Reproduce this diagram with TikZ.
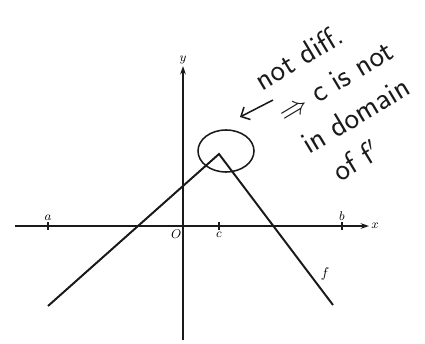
\documentclass[tikz,border=0pt]{standalone}
\usetikzlibrary{arrows.meta}
\begin{document}
\begin{tikzpicture}[x=0.025cm, y=0.025cm]
    \def\lineW{1.4pt}

    \definecolor{inkColour}{HTML}{1A1A1A}

    \tikzset{
        axisLine/.style={draw=inkColour, line width=\lineW, -{Stealth[length=6pt,width=4pt]}},
        graphLine/.style={draw=inkColour, line width=\lineW},
        axisLabel/.style={inner sep=1pt, font=\small},
        noteText/.style={rotate=31, align=center, font=\fontsize{22}{28}\selectfont\sffamily, text=inkColour, inner sep=0pt}
    }

    % Fix the margins of the picture
    \useasboundingbox (-183,-117) rectangle (242,226);

    % Draw axes
    \coordinate (xStart) at (-168,0);
    \coordinate (xEnd) at (186,0);
    \coordinate (yStart) at (0,-114);
    \coordinate (yEnd) at (0,160);
    \draw[axisLine] (xStart) -- (xEnd) node[axisLabel, right] (xLab) {$x$};
    \draw[axisLine] (yStart) -- (yEnd) node[axisLabel, above] (yLab) {$y$};
    \node[axisLabel, below left] (origin) at (0,-2) {$O$};

    % Ticks a, c and b on the x-axis
    \foreach \pos in {-135,36,159}
        \draw[graphLine, line width=0.8pt] (\pos,4) -- (\pos,-4);
    \node[axisLabel, above] (labA) at (-135,4) {$a$};
    \node[axisLabel, below] (labC) at (36,-4) {$c$};
    \node[axisLabel, above] (labB) at (159,4) {$b$};

    % Graph of f with a corner at c
    \coordinate (leftEnd) at (-135,-80);
    \coordinate (peak) at (36,72);
    \coordinate (rightEnd) at (150,-79);
    \draw[graphLine] (leftEnd) -- (peak) -- (rightEnd);
    \node[axisLabel, font=\normalsize] (fLab) at (142,-48) {$f$};

    % Circle round the corner and the note
    \draw[graphLine, line width=1.1pt] (43,75) ellipse [x radius=28, y radius=21];
    \coordinate (arrowTail) at (90,126);
    \coordinate (arrowTip) at (57,109);
    \draw[graphLine, line width=1.1pt, -{Straight Barb[length=5pt]}] (arrowTail) -- (arrowTip);

    \node[noteText] (note) at (162,128) {not diff.\hspace*{1.2em}\\ $\Rightarrow$ c is not\\ in domain\\ of f$'$\hspace*{1.5em}};

\end{tikzpicture}
\end{document}
